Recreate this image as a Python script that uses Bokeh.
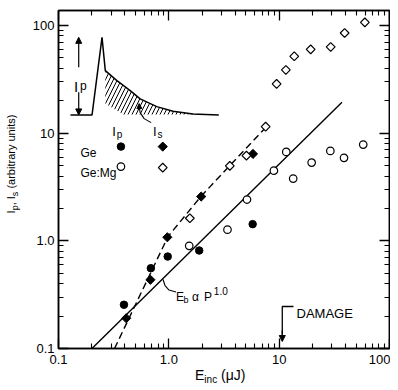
import math
from bokeh.plotting import figure
from bokeh.models import LogAxis, FixedTicker, Label, Arrow, NormalHead, Div
from bokeh.layouts import row, column
from bokeh.embed import file_html
from bokeh.resources import INLINE

# ---------------- data ----------------
ge_ip_x = [0.392, 0.687, 0.977, 1.885, 5.75]
ge_ip_y = [0.255, 0.557, 0.715, 0.813, 1.43]
ge_is_x = [0.411, 0.681, 0.969, 1.965, 5.79]
ge_is_y = [0.191, 0.435, 1.08, 2.58, 6.42]
gemg_ip_x = [1.53, 3.40, 5.11, 8.96, 11.6, 13.4, 19.7, 29.1, 38.7, 57.8]
gemg_ip_y = [0.899, 1.27, 2.42, 4.49, 6.70, 3.79, 5.33, 6.85, 5.90, 7.84]
gemg_is_x = [1.55, 3.57, 5.05, 7.54, 9.48, 11.5, 13.7, 19.3, 29.3, 39.2, 59.8]
gemg_is_y = [1.62, 4.97, 6.19, 11.5, 28.7, 38.7, 51.8, 60.1, 63.3, 85.3, 107.0]
solid_x = [0.201, 37.1]          # E_b ~ P^1.0 line
solid_y = [0.1, 19.4]
dash_x = [0.322, 0.983, 1.95, 3.57, 7.85]
dash_y = [0.1, 1.096, 2.58, 5.0, 11.8]
damage_x = 10.67

tick_values = [0.1, 1.0, 10.0, 100.0]
x_tick_labels = ["0.1", "1.0", "10", "100"]
y_tick_labels = ["0.1", "1.0", "10", "100"]
minor_ticks = [m * 10.0 ** e for e in range(-1, 3) for m in range(2, 10)]

x_title_html = "E<sub style='font-size:10px;vertical-align:-3px'>inc</sub> (μJ)"
y_title_html = ("I<sub style='font-size:9px;vertical-align:-3px'>p</sub>, "
                "I<sub style='font-size:9px;vertical-align:-3px'>s</sub>"
                " (arbitrary units)")

# ---------------- helpers for annotation placement ----------------
REF_X0, REF_XDEC = 58.0, 110.8
REF_Y0, REF_YDEC = 348.0, 107.7


def rx(px):
    return 10 ** ((px - REF_X0) / REF_XDEC - 1)


def ry(py):
    return 10 ** ((REF_Y0 - py) / REF_YDEC - 1)


FONT = "Liberation Sans"

p = figure(x_axis_type="log", y_axis_type="log",
           x_range=(0.1, 100), y_range=(0.1, 138),
           width=364, height=370,
           min_border_left=32, min_border_right=1,
           min_border_top=10, min_border_bottom=22,
           output_backend="svg", toolbar_location=None,
           background_fill_color="white", border_fill_color="white")
p.xgrid.visible = False
p.ygrid.visible = False
p.outline_line_color = "black"
p.outline_line_width = 1.5

bottom_ax = p.xaxis[0]
left_ax = p.yaxis[0]


def style_axis(ax, labels):
    ax.ticker = FixedTicker(ticks=tick_values, minor_ticks=minor_ticks)
    ax.major_tick_in = 10
    ax.major_tick_out = 0
    ax.minor_tick_in = 5
    ax.minor_tick_out = 0
    ax.major_tick_line_width = 1.3
    ax.minor_tick_line_width = 1.1
    ax.major_tick_line_color = "black"
    ax.minor_tick_line_color = "black"
    ax.axis_line_color = "black"
    ax.axis_line_width = 1.5
    if labels is None:
        ax.major_label_overrides = {v: "" for v in tick_values}
        ax.major_label_text_font_size = "0px"
        ax.major_label_standoff = 0
        ax.major_label_text_alpha = 0
    else:
        ax.major_label_overrides = {v: s for v, s in zip(tick_values, labels)}
        ax.major_label_text_font = FONT
        ax.major_label_text_font_size = "13px"
        ax.major_label_text_color = "black"


style_axis(bottom_ax, x_tick_labels)
bottom_ax.major_label_standoff = 6
style_axis(left_ax, y_tick_labels)
left_ax.major_label_standoff = 4

top_ax = LogAxis()
right_ax = LogAxis()
style_axis(top_ax, None)
style_axis(right_ax, None)
p.add_layout(top_ax, "above")
p.add_layout(right_ax, "right")

# ---------------- fitted lines ----------------
p.line(solid_x, solid_y, line_color="black", line_width=1.4)
p.line(dash_x, dash_y, line_color="black", line_width=1.4, line_dash="7 4")

# ---------------- data points ----------------
p.scatter(ge_ip_x, ge_ip_y, marker="circle", size=7.5, fill_color="black", line_color="black")
p.scatter(ge_is_x, ge_is_y, marker="square", angle=math.pi / 4, size=6.5,
          fill_color="black", line_color="black")
p.scatter(gemg_ip_x, gemg_ip_y, marker="circle", size=7.5, fill_color="white",
          line_color="black", line_width=1.2)
p.scatter(gemg_is_x, gemg_is_y, marker="square", angle=math.pi / 4, size=6.2,
          fill_color="white", line_color="black", line_width=1.2)


def txt(xp, yp, s, size, align="left", baseline="alphabetic", font=FONT):
    p.add_layout(Label(x=rx(xp), y=ry(yp), text=s, text_font=font,
                       text_font_size=f"{size}px", text_align=align,
                       text_baseline=baseline, text_color="black"))


def arrow(x0, y0, x1, y1, size=6):
    p.add_layout(Arrow(x_start=rx(x0), y_start=ry(y0), x_end=rx(x1), y_end=ry(y1),
                       line_color="black", line_width=1.2,
                       end=NormalHead(size=size, fill_color="black", line_color="black",
                                      line_width=1)))


def pline(pts, width=1.4):
    p.line([rx(a) for a, _ in pts], [ry(b) for _, b in pts], line_color="black",
           line_width=width)


# ---------------- inset schematic ----------------
pulse = [(70, 114.3), (91.7, 114.3), (101.7, 36.7), (105, 70), (116.7, 80), (130, 90),
         (140, 98.3), (156.7, 106), (173, 110.7), (193, 113.3), (219, 114.3)]
hatch = [(105, 70), (116.7, 80), (130, 90), (140, 98.3), (156.7, 106), (173, 110.7),
         (193, 113.3), (200, 114), (123, 114), (105, 103)]
p.patch([rx(a) for a, _ in hatch], [ry(b) for _, b in hatch], fill_color=None,
        line_color=None, hatch_pattern="/", hatch_color="black", hatch_weight=1,
        hatch_scale=8)
pline(pulse, 1.5)
arrow(78.3, 66.7, 78.3, 36.7)
arrow(78.3, 91.7, 78.3, 114.3)
txt(73.5, 85.5, "I", 15)
txt(79.5, 85, "p", 12)

# Is leader
pline([(139, 106), (140, 112), (144, 118), (151, 122)], 1.1)
arrow(139.2, 108, 139, 103, 5)
txt(153, 131, "I", 13)
txt(157.5, 134, "s", 10)

# legend block
txt(112, 131, "I", 13)
txt(116.5, 134, "p", 10)
txt(80, 152, "Ge", 12)
txt(80, 172, "Ge:Mg", 12)
p.scatter([rx(120.7)], [ry(146)], marker="circle", size=7.5, fill_color="black",
          line_color="black")
p.scatter([rx(162.7)], [ry(146)], marker="square", angle=math.pi / 4, size=6.5,
          fill_color="black", line_color="black")
p.scatter([rx(120.7)], [ry(166)], marker="circle", size=7.5, fill_color="white",
          line_color="black", line_width=1.2)
p.scatter([rx(162.7)], [ry(167)], marker="square", angle=math.pi / 4, size=6.2,
          fill_color="white", line_color="black", line_width=1.2)

# E_b alpha P^1.0 annotation
pline([(163, 279), (165, 285), (169, 289.5), (176, 291.5)], 1.1)
txt(176, 296.5, "E", 12)
txt(183.5, 299.5, "b", 9)
txt(192, 296.5, "α", 12)
txt(204, 296.5, "P", 12)
txt(214, 290.5, "1.0", 10)

# DAMAGE annotation
p.line([rx(294), damage_x, damage_x], [ry(306), ry(306), ry(334)], line_color="black",
       line_width=1.3)
p.add_layout(Arrow(x_start=damage_x, y_start=ry(330), x_end=damage_x, y_end=ry(341),
                   line_color="black", line_width=1.3,
                   end=NormalHead(size=6, fill_color="black", line_color="black")))
txt(297, 313, "DAMAGE", 13)

# ---------------- axis titles (HTML text with real subscripts) ----------------
ydiv = Div(width=26, height=382, margin=(0, 0, 0, 0),
           text=("<div style=\"display:flex;align-items:center;justify-content:center;"
                 "width:26px;height:382px;box-sizing:border-box;padding-bottom:54px;\">"
                 "<div style=\"transform:rotate(-90deg);white-space:nowrap;"
                 "font-family:'Liberation Sans';font-size:11px;line-height:14px;color:black;\">"
                 + y_title_html + "</div></div>"))
xdiv = Div(width=364, height=12, margin=(0, 0, 0, 0),
           text=("<div style=\"position:relative;width:364px;height:12px;\">"
                 "<div style=\"position:absolute;left:169px;top:-2px;white-space:nowrap;"
                 "font-family:'Liberation Sans';font-size:14px;line-height:14px;color:black;\">"
                 + x_title_html + "</div></div>"))

layout = row(ydiv, column(p, xdiv, spacing=0), spacing=0)

open("out.html", "w").write(file_html(layout, INLINE))
